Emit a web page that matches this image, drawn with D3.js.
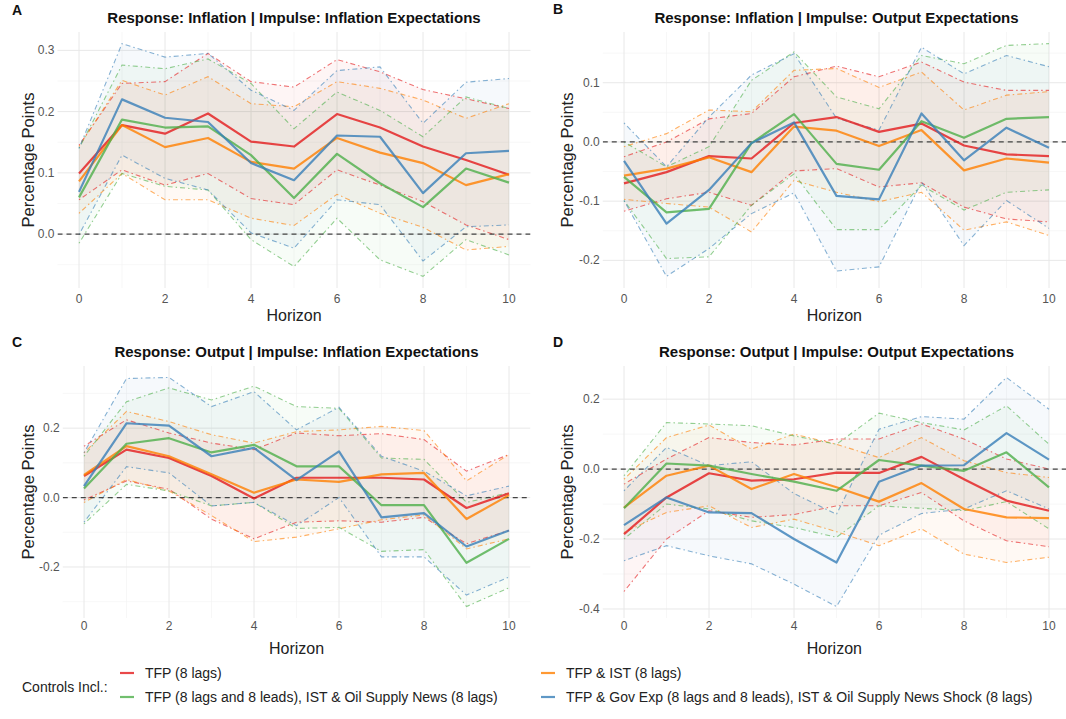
<!DOCTYPE html>
<html><head><meta charset="utf-8">
<script src="https://cdn.jsdelivr.net/npm/d3@7"></script>
<style>body{margin:0;background:#fff;} text{font-family:"Liberation Sans", Arial, sans-serif;}</style>
</head><body><svg id="c" width="1066" height="719"></svg>
<script>
const horizons = [0,1,2,3,4,5,6,7,8,9,10];
const seriesNames = ["TFP (8 lags)", "TFP & IST (8 lags)",
  "TFP (8 lags and 8 leads), IST & Oil Supply News (8 lags)",
  "TFP & Gov Exp (8 lags and 8 leads), IST & Oil Supply News Shock (8 lags)"];
const seriesColors = ["#E41A1C", "#FF7F00", "#4DAF4A", "#377EB8"];

// Panel A: Response Inflation | Impulse Inflation Expectations  (series order: red, orange, green, blue)
const A_mean = [
  [0.099,0.178,0.164,0.197,0.151,0.143,0.196,0.174,0.143,0.121,0.097],
  [0.086,0.178,0.142,0.157,0.118,0.107,0.157,0.133,0.116,0.080,0.098],
  [0.060,0.187,0.174,0.176,0.129,0.059,0.131,0.083,0.044,0.107,0.084],
  [0.069,0.220,0.190,0.183,0.116,0.088,0.161,0.159,0.067,0.132,0.136]];
const A_lo = [
  [0.056,0.105,0.080,0.099,0.058,0.048,0.105,0.080,0.053,0.015,-0.009],
  [0.034,0.099,0.056,0.056,0.026,0.014,0.065,0.034,0.011,-0.026,-0.020],
  [-0.015,0.099,0.078,0.072,-0.009,-0.053,0.026,-0.042,-0.069,-0.009,-0.034],
  [-0.001,0.129,0.091,0.072,0.002,-0.023,0.056,0.048,-0.044,0.012,0.015]];
const A_hi = [
  [0.145,0.246,0.249,0.295,0.249,0.240,0.285,0.265,0.236,0.221,0.205],
  [0.143,0.251,0.227,0.257,0.213,0.208,0.249,0.238,0.219,0.189,0.213],
  [0.140,0.276,0.270,0.286,0.246,0.172,0.232,0.202,0.159,0.224,0.205],
  [0.140,0.311,0.289,0.295,0.235,0.202,0.267,0.273,0.181,0.248,0.254]];

// Panel B: Response Inflation | Impulse Output Expectations
const B_mean = [
  [-0.070,-0.051,-0.024,-0.028,0.032,0.042,0.017,0.031,-0.006,-0.021,-0.024],
  [-0.057,-0.045,-0.026,-0.051,0.026,0.019,-0.007,0.020,-0.048,-0.028,-0.035],
  [-0.059,-0.119,-0.113,-0.002,0.047,-0.037,-0.047,0.035,0.007,0.039,0.042],
  [-0.032,-0.138,-0.081,-0.002,0.033,-0.091,-0.097,0.048,-0.031,0.024,-0.010]];
const B_lo = [
  [-0.117,-0.096,-0.085,-0.107,-0.049,-0.045,-0.076,-0.069,-0.110,-0.130,-0.135],
  [-0.097,-0.104,-0.110,-0.152,-0.065,-0.085,-0.101,-0.085,-0.149,-0.135,-0.158],
  [-0.099,-0.197,-0.194,-0.107,-0.054,-0.148,-0.148,-0.073,-0.115,-0.085,-0.081],
  [-0.099,-0.227,-0.180,-0.121,-0.086,-0.218,-0.211,-0.068,-0.175,-0.099,-0.146]];
const B_hi = [
  [-0.025,0.000,0.039,0.048,0.110,0.128,0.110,0.135,0.101,0.087,0.087],
  [-0.008,0.014,0.054,0.051,0.121,0.124,0.092,0.118,0.054,0.079,0.085],
  [0.000,-0.042,-0.008,0.104,0.152,0.076,0.056,0.146,0.132,0.163,0.166],
  [0.032,-0.042,0.042,0.113,0.149,0.040,0.020,0.160,0.115,0.146,0.127]];

// Panel C: Response Output | Impulse Inflation Expectations
const C_mean = [
  [0.062,0.138,0.114,0.062,-0.003,0.057,0.057,0.057,0.052,-0.030,0.012],
  [0.065,0.148,0.119,0.067,0.014,0.052,0.045,0.067,0.071,-0.062,0.007],
  [0.026,0.155,0.171,0.130,0.152,0.090,0.090,-0.022,-0.022,-0.188,-0.119],
  [0.033,0.214,0.207,0.119,0.143,0.050,0.133,-0.057,-0.045,-0.141,-0.095]];
const C_lo = [
  [-0.007,0.048,0.024,-0.062,-0.119,-0.071,-0.067,-0.071,-0.057,-0.133,-0.095],
  [-0.014,0.052,0.019,-0.052,-0.127,-0.114,-0.090,-0.064,-0.050,-0.148,-0.119],
  [-0.076,0.038,0.019,-0.024,-0.014,-0.089,-0.086,-0.155,-0.150,-0.314,-0.260],
  [-0.071,0.089,0.071,-0.024,-0.014,-0.081,0.000,-0.171,-0.171,-0.281,-0.229]];
const C_hi = [
  [0.148,0.224,0.186,0.157,0.138,0.186,0.178,0.184,0.167,0.076,0.124],
  [0.129,0.248,0.219,0.181,0.157,0.190,0.195,0.205,0.193,0.048,0.124],
  [0.119,0.276,0.316,0.281,0.321,0.262,0.257,0.114,0.110,-0.014,0.014],
  [0.129,0.343,0.346,0.262,0.305,0.195,0.260,0.119,0.076,0.005,0.033]];

// Panel D: Response Output | Impulse Output Expectations
const D_mean = [
  [-0.186,-0.081,-0.012,-0.033,-0.029,-0.010,-0.011,0.035,-0.029,-0.090,-0.119],
  [-0.110,-0.019,0.010,-0.057,-0.014,-0.052,-0.093,-0.040,-0.114,-0.138,-0.140],
  [-0.112,0.016,0.010,-0.014,-0.036,-0.062,0.026,0.010,-0.005,0.048,-0.052],
  [-0.160,-0.081,-0.124,-0.126,-0.200,-0.267,-0.036,0.010,0.011,0.103,0.027]];
const D_lo = [
  [-0.350,-0.200,-0.119,-0.138,-0.130,-0.105,-0.105,-0.067,-0.148,-0.205,-0.222],
  [-0.181,-0.124,-0.105,-0.167,-0.143,-0.179,-0.219,-0.171,-0.243,-0.267,-0.252],
  [-0.200,-0.100,-0.114,-0.148,-0.167,-0.195,-0.105,-0.112,-0.119,-0.093,-0.171],
  [-0.262,-0.219,-0.248,-0.271,-0.329,-0.393,-0.189,-0.127,-0.114,-0.062,-0.114]];
const D_hi = [
  [-0.043,0.029,0.090,0.076,0.069,0.086,0.086,0.129,0.086,0.029,0.000],
  [-0.029,0.090,0.126,0.057,0.100,0.071,0.033,0.090,0.024,-0.010,-0.024],
  [-0.019,0.133,0.129,0.124,0.095,0.071,0.160,0.133,0.112,0.181,0.071],
  [-0.062,0.062,0.010,0.021,-0.070,-0.129,0.114,0.150,0.143,0.262,0.171]];

const xTicks = [0,2,4,6,8,10];
const A_yTicks = [0.0,0.1,0.2,0.3];
const B_yTicks = [-0.2,-0.1,0.0,0.1];
const C_yTicks = [-0.2,0.0,0.2];
const D_yTicks = [-0.4,-0.2,0.0,0.2];

const panels = [
  {letter:"A", title:"Response: Inflation | Impulse: Inflation Expectations", mean:A_mean, lo:A_lo, hi:A_hi, yTicks:A_yTicks, minorStep:0.05,
   x0:57.5, x1:530.5, y0:32, y1:288, letterX:12, letterY:15, titleY:23, ylabX:34, tickY:303, horY:321},
  {letter:"B", title:"Response: Inflation | Impulse: Output Expectations", mean:B_mean, lo:B_lo, hi:B_hi, yTicks:B_yTicks, minorStep:0.05,
   x0:602.75, x1:1070.25, y0:32, y1:288, letterX:553, letterY:14, titleY:23, ylabX:573, tickY:303, horY:321},
  {letter:"C", title:"Response: Output | Impulse: Inflation Expectations", mean:C_mean, lo:C_lo, hi:C_hi, yTicks:C_yTicks, minorStep:0.1,
   x0:62.75, x1:530.25, y0:366, y1:618, letterX:12, letterY:347, titleY:357, ylabX:34, tickY:630, horY:654},
  {letter:"D", title:"Response: Output | Impulse: Output Expectations", mean:D_mean, lo:D_lo, hi:D_hi, yTicks:D_yTicks, minorStep:0.1,
   x0:602.75, x1:1070.25, y0:366, y1:618, letterX:553, letterY:347, titleY:357, ylabX:573, tickY:630, horY:654}
];

const svg = d3.select("#c");
svg.append("rect").attr("width",1066).attr("height",719).attr("fill","#fff");
const fmt = v => d3.format(".1f")(v).replace("\u2212","-");

panels.forEach((p, pi) => {
  const allV = [].concat(...p.lo, ...p.hi, ...p.mean, [0]);
  const ext = d3.extent(allV);
  const pad = (ext[1]-ext[0])*0.05;
  const x = d3.scaleLinear().domain([-0.5, 10.5]).range([p.x0, p.x1]);
  const y = d3.scaleLinear().domain([ext[0]-pad, ext[1]+pad]).range([p.y1, p.y0]);
  const g = svg.append("g");
  const clipId = "clip"+pi;
  svg.append("clipPath").attr("id", clipId).append("rect")
    .attr("x", p.x0).attr("y", p.y0).attr("width", p.x1-p.x0).attr("height", p.y1-p.y0);

  // minor grid
  const yMin = Math.ceil((ext[0]-pad)/p.minorStep), yMax = Math.floor((ext[1]+pad)/p.minorStep);
  const minorY = d3.range(yMin, yMax+1).map(k => +(k*p.minorStep).toFixed(3)).filter(v => !p.yTicks.some(t => Math.abs(t-v)<1e-6));
  g.selectAll(".mgy").data(minorY).join("line").attr("x1",p.x0).attr("x2",p.x1)
    .attr("y1",d=>y(d)).attr("y2",d=>y(d)).attr("stroke","#f2f2f2").attr("stroke-width",0.6);
  g.selectAll(".mgx").data(horizons.filter(h=>h%2===1)).join("line").attr("y1",p.y0).attr("y2",p.y1)
    .attr("x1",d=>x(d)).attr("x2",d=>x(d)).attr("stroke","#f2f2f2").attr("stroke-width",0.6);
  // major grid
  g.selectAll(".gy").data(p.yTicks).join("line").attr("x1",p.x0).attr("x2",p.x1)
    .attr("y1",d=>y(d)).attr("y2",d=>y(d)).attr("stroke","#e8e8e8").attr("stroke-width",1);
  g.selectAll(".gx").data(xTicks).join("line").attr("y1",p.y0).attr("y2",p.y1)
    .attr("x1",d=>x(d)).attr("x2",d=>x(d)).attr("stroke","#e8e8e8").attr("stroke-width",1);

  // axis labels
  g.selectAll(".yt").data(p.yTicks).join("text").attr("x", p.x0-3).attr("y", d=>y(d)+4)
    .attr("text-anchor","end").attr("font-size",12).attr("fill","#555").text(fmt);
  g.selectAll(".xt").data(xTicks).join("text").attr("x", d=>x(d)).attr("y", p.tickY)
    .attr("text-anchor","middle").attr("font-size",12).attr("fill","#555").text(d=>d);
  g.append("text").attr("x",(p.x0+Math.min(p.x1,1066+4))/2+ (pi%2?-2:0)).attr("y",p.horY).attr("text-anchor","middle")
    .attr("font-size",16).attr("fill","#222").text("Horizon");
  g.append("text").attr("transform",`translate(${p.ylabX},${(p.y0+p.y1)/2}) rotate(-90)`)
    .attr("text-anchor","middle").attr("font-size",16.5).attr("fill","#222").text("Percentage Points");
  g.append("text").attr("x",(p.x0+p.x1)/2).attr("y",p.titleY).attr("text-anchor","middle")
    .attr("font-size",15).attr("font-weight","bold").attr("fill","#111").text(p.title);
  g.append("text").attr("x",p.letterX).attr("y",p.letterY).attr("font-size",14)
    .attr("font-weight","bold").attr("fill","#111").text(p.letter);

  const plot = g.append("g").attr("clip-path",`url(#${clipId})`);
  const area = d3.area().x((d,i)=>x(horizons[i])).y0(d=>y(d[0])).y1(d=>y(d[1]));
  const line = d3.line().x((d,i)=>x(horizons[i])).y(d=>y(d));
  // ribbons
  seriesColors.forEach((c, s) => {
    const band = p.lo[s].map((v,i)=>[v, p.hi[s][i]]);
    plot.append("path").attr("d", area(band)).attr("fill", c).attr("fill-opacity", 0.045);
  });
  // ribbon borders
  seriesColors.forEach((c, s) => {
    [p.lo[s], p.hi[s]].forEach(arr => {
      plot.append("path").attr("d", line(arr)).attr("fill","none").attr("stroke", c)
        .attr("stroke-opacity",0.6).attr("stroke-width",1.1).attr("stroke-dasharray","1.5,3,5,3");
    });
  });
  // zero line
  plot.append("line").attr("x1",p.x0).attr("x2",p.x1).attr("y1",y(0)).attr("y2",y(0))
    .attr("stroke","#444").attr("stroke-width",1.3).attr("stroke-dasharray","5,4");
  // mean lines
  seriesColors.forEach((c, s) => {
    plot.append("path").attr("d", line(p.mean[s])).attr("fill","none").attr("stroke", c)
      .attr("stroke-opacity",0.8).attr("stroke-width",2.2).attr("stroke-linejoin","round");
  });
});

// legend
const leg = svg.append("g");
leg.append("text").attr("x",22).attr("y",692).attr("font-size",14).attr("fill","#222").text("Controls Incl.:");
const legPos = [[120,673],[541,673],[120,697],[541,697]];
seriesNames.forEach((n, s) => {
  const [lx, ly] = legPos[s];
  leg.append("line").attr("x1",lx).attr("x2",lx+14).attr("y1",ly).attr("y2",ly)
    .attr("stroke",seriesColors[s]).attr("stroke-opacity",0.8).attr("stroke-width",2.2);
  leg.append("text").attr("x",lx+25).attr("y",ly+5).attr("font-size",14).attr("fill","#222").text(n);
});
</script></body></html>
